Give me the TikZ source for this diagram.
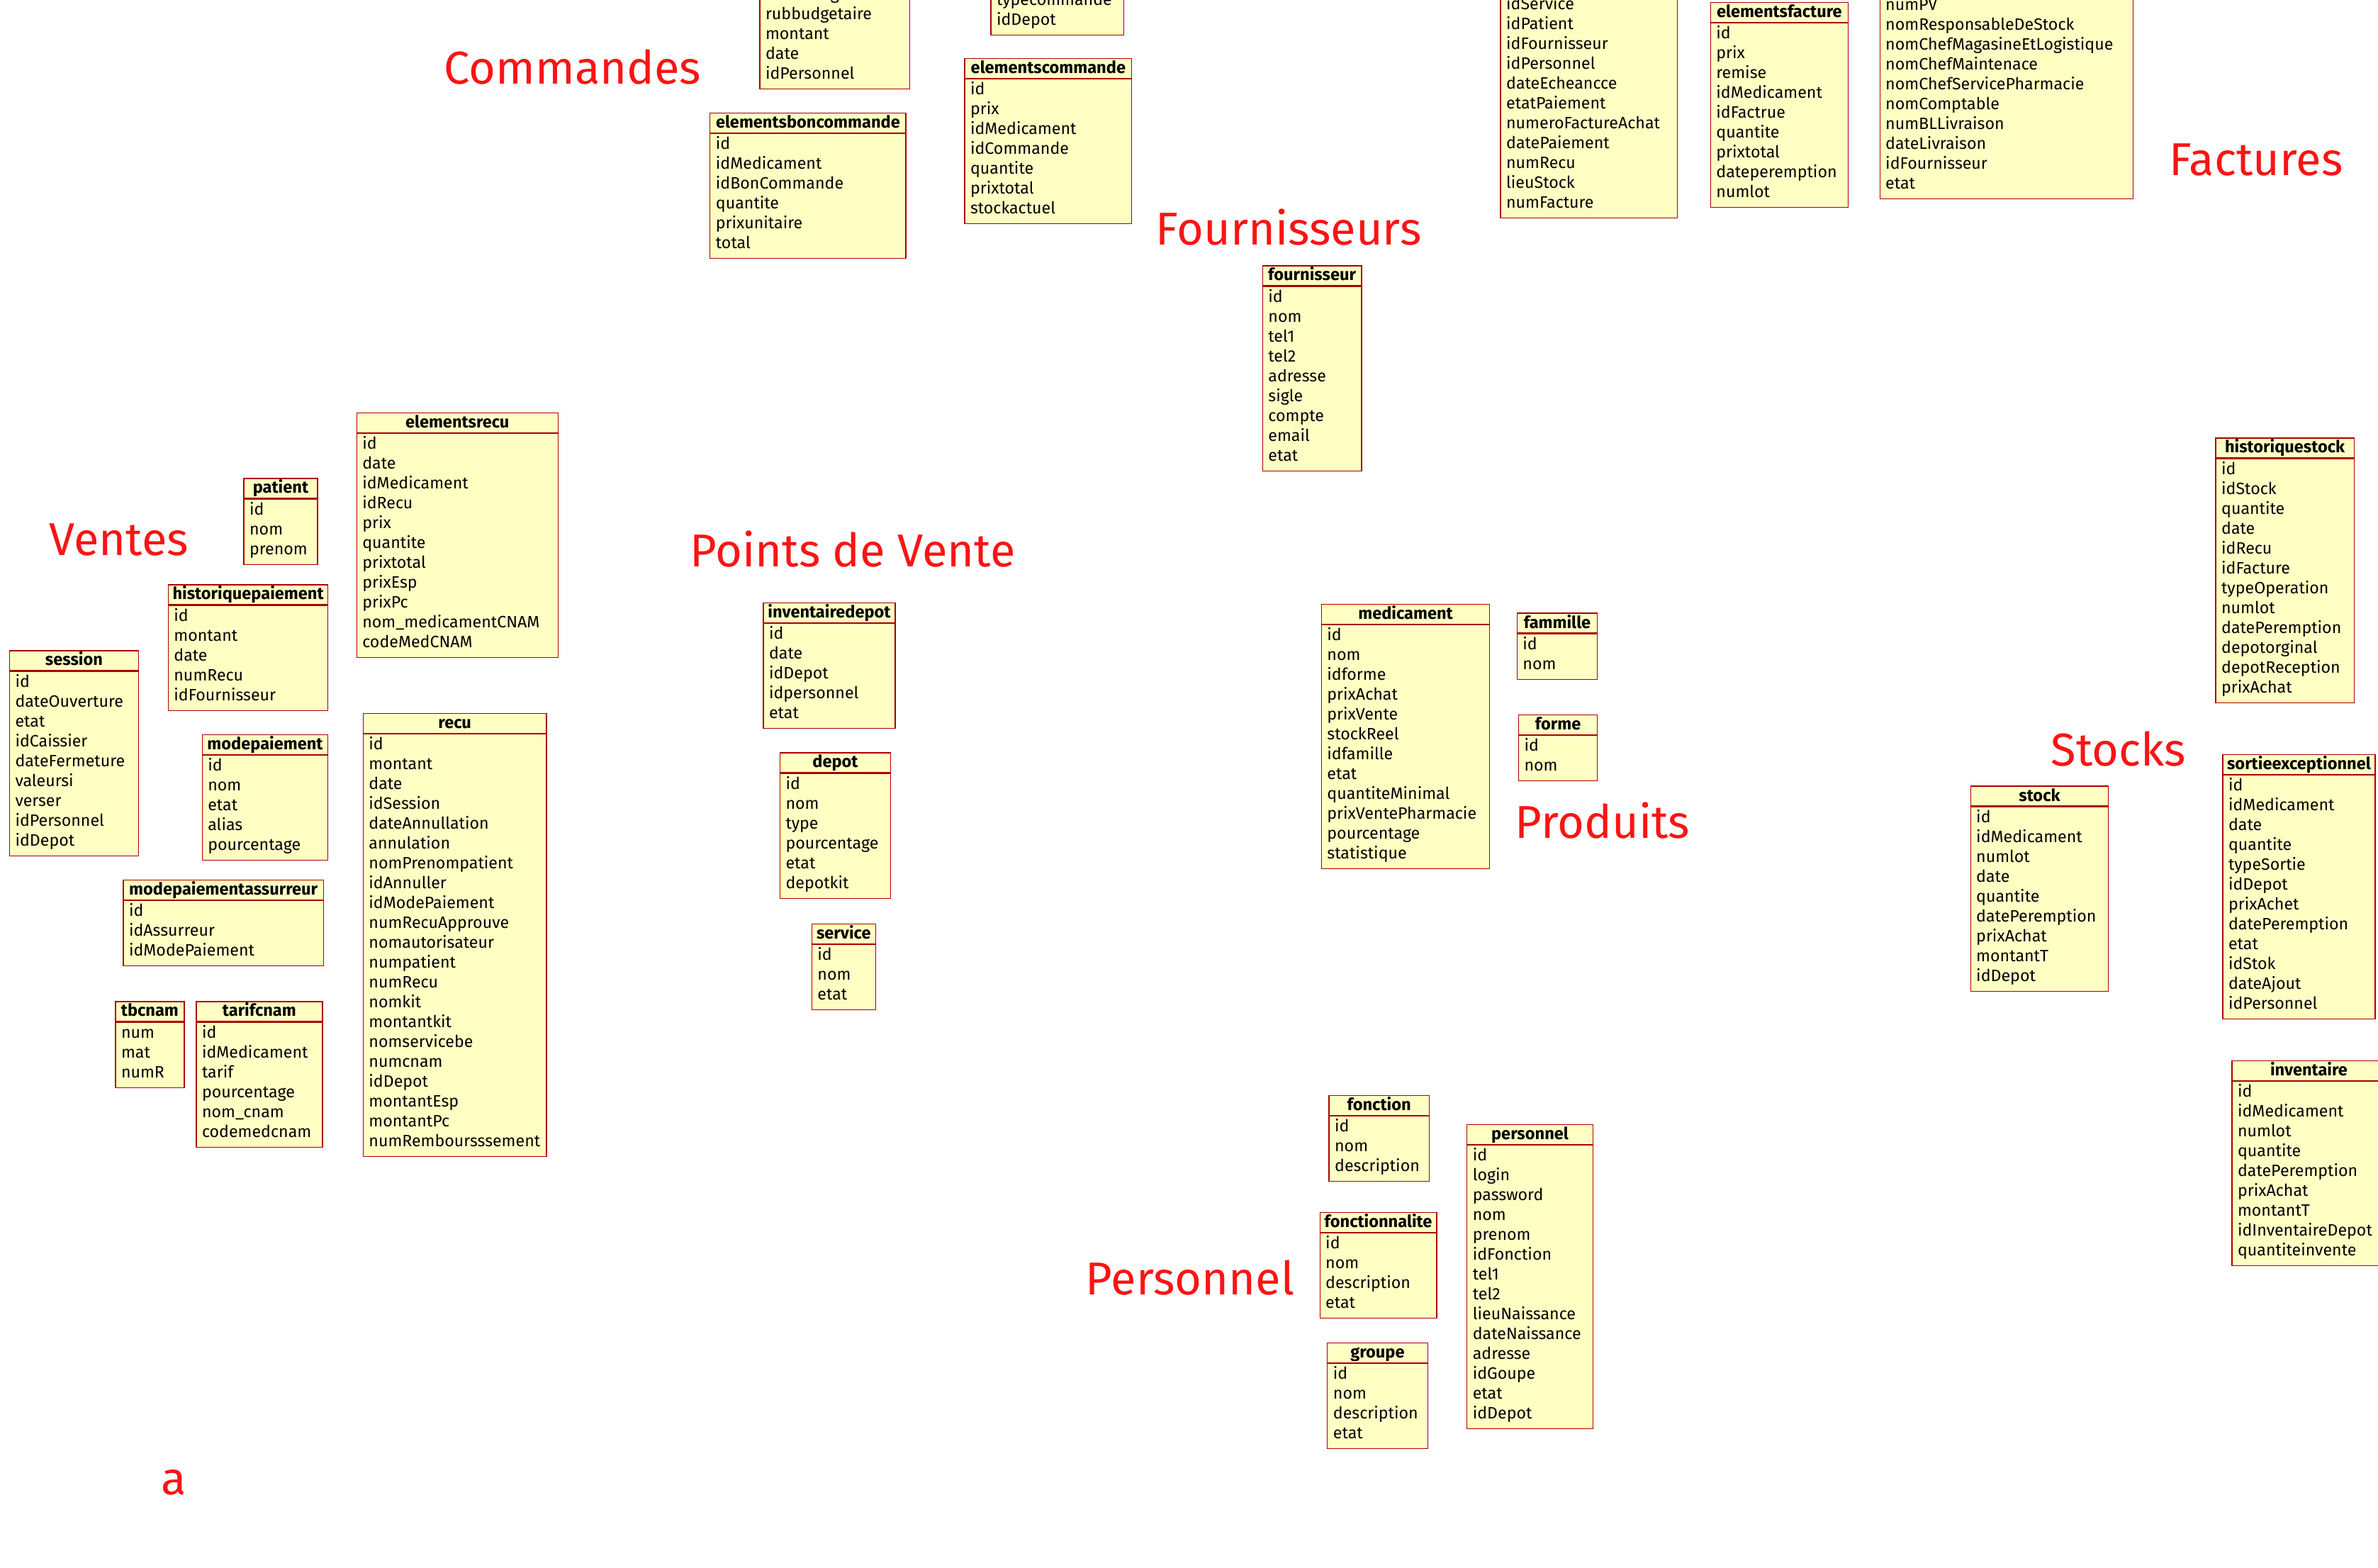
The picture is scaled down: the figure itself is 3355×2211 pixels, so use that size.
\documentclass[tikz,border=0pt]{standalone}
\usepackage{fontspec}
\setmainfont{Fira Sans}
\usetikzlibrary{calc}
\definecolor{tblfill}{RGB}{255,255,196}
\definecolor{tblborder}{RGB}{170,0,0}
\definecolor{lblred}{RGB}{250,20,20}
\newcommand\rowfont{\fontsize{11.6}{14}\selectfont}
\newcommand\hdrfont{\bfseries\fontsize{11.8}{14}\selectfont}
\newcommand\lblfont{\fontsize{32.5}{36}\selectfont}
\tikzset{
  tblhead/.style={draw=tblborder, fill=tblfill, line width=0.6pt, anchor=north west,
    minimum height=14pt, inner sep=0pt, text height=9pt, text depth=2pt, font=\hdrfont},
  tblbody/.style={draw=tblborder, fill=tblfill, line width=0.6pt, anchor=north west, inner sep=0pt},
  tblrow/.style={anchor=base west, inner sep=0pt, font=\rowfont},
  grplabel/.style={anchor=base, text=lblred, font=\lblfont, inner sep=0pt},
}
% name, x, top, width, title, n, rows
\newcommand\dbtable[7]{%
  \node[tblhead, minimum width={#4*0.5pt}] (#1) at (#2,#3) {#5};
  \node[tblbody, minimum width={#4*0.5pt}, minimum height={(28*#6+8)*0.5pt}] (#1-body) at (#1.south west) {};
  \foreach \r [count=\i] in {#7} {\node[tblrow] (#1-r\i) at ($(#1-body.north west)+(8.3,{22.7+28*(\i-1)})$) {\r};}
}
% name, x, bottom, width, n, rows
\newcommand\dbcut[6]{%
  \node[tblbody, anchor=south west, minimum width={#4*0.5pt}, minimum height={(28*#5+8)*0.5pt}] (#1-body) at (#2,#3) {};
  \foreach \r [count=\i] in {#6} {\node[tblrow] (#1-r\i) at ($(#1-body.north west)+(8.3,{22.7+28*(\i-1)})$) {\r};}
}
\begin{document}
\begin{tikzpicture}[x=0.5pt,y=-0.5pt]
\useasboundingbox (0,0) rectangle (3355,2211);
\clip (0,0) rectangle (3355,2211);
% group labels
\node[grplabel] (lcommandes) at (808,118) {Commandes};
\node[grplabel] (lfournisseurs) at (1818,345) {Fournisseurs};
\node[grplabel] (lfactures) at (3183,247) {Factures};
\node[grplabel] (lventes) at (168,783) {Ventes};
\node[grplabel] (lpoints) at (1203,799) {Points de Vente};
\node[grplabel] (lproduits) at (2261,1182) {Produits};
\node[grplabel] (lstocks) at (2989,1080) {Stocks};
\node[grplabel] (lpersonnel) at (1679,1826) {Personnel};
\node[grplabel] (la) at (245,2108) {a};
% Commandes
\dbcut{boncommande}{1071.3}{126.3}{211.4}{5}{codebudgetaire,rubbudgetaire,montant,date,idPersonnel}
\dbcut{commande}{1397.3}{50}{187.7}{2}{typecommande,idDepot}
\dbtable{elementscommande}{1360.3}{81.7}{235.9}{elementscommande}{7}{id,prix,idMedicament,idCommande,quantite,prixtotal,stockactuel}
\dbtable{elementsboncommande}{1001.2}{158.7}{276.2}{elementsboncommande}{6}{id,idMedicament,idBonCommande,quantite,prixunitaire,total}
% Fournisseurs
\dbtable{fournisseur}{1780.7}{374.3}{139.6}{fournisseur}{9}{id,nom,tel1,tel2,adresse,sigle,compte,email,etat}
% Factures
\dbcut{facture}{2116.4}{308.3}{249.1}{11}{idService,idPatient,idFournisseur,idPersonnel,dateEcheancce,etatPaiement,numeroFactureAchat,datePaiement,numRecu,lieuStock,numFacture}
\dbtable{elementsfacture}{2412.7}{2.7}{194}{elementsfacture}{9}{id,prix,remise,idMedicament,idFactrue,quantite,prixtotal,dateperemption,numlot}
\dbcut{pv}{2651.5}{281}{357.6}{10}{numPV,nomResponsableDeStock,nomChefMagasineEtLogistique,nomChefMaintenace,nomChefServicePharmacie,nomComptable,numBLLivraison,dateLivraison,idFournisseur,etat}
% Ventes
\dbtable{patient}{343.4}{674.3}{104}{patient}{3}{id,nom,prenom}
\dbtable{elementsrecu}{502.6}{581.7}{284.1}{elementsrecu}{11}{id,date,idMedicament,idRecu,prix,quantite,prixtotal,prixEsp,prixPc,nom\_medicamentCNAM,codeMedCNAM}
\dbtable{historiquepaiement}{236.7}{824.3}{225.5}{historiquepaiement}{5}{id,montant,date,numRecu,idFournisseur}
\dbtable{session}{12.8}{917.3}{182.1}{session}{9}{id,dateOuverture,etat,idCaissier,dateFermeture,valeursi,verser,idPersonnel,idDepot}
\dbtable{recu}{511.7}{1006}{258.7}{recu}{21}{id,montant,date,idSession,dateAnnullation,annulation,nomPrenompatient,idAnnuller,idModePaiement,numRecuApprouve,nomautorisateur,numpatient,numRecu,nomkit,montantkit,nomservicebe,numcnam,idDepot,montantEsp,montantPc,numRemboursssement}
\dbtable{modepaiement}{284.6}{1035.6}{177.6}{modepaiement}{5}{id,nom,etat,alias,pourcentage}
\dbtable{modepaiementassurreur}{173.3}{1241}{282.5}{modepaiementassurreur}{3}{id,idAssurreur,idModePaiement}
\dbtable{tbcnam}{162.3}{1412.3}{97}{tbcnam}{3}{num,mat,numR}
\dbtable{tarifcnam}{276.3}{1412.3}{178}{tarifcnam}{6}{id,idMedicament,tarif,pourcentage,nom\_cnam,codemedcnam}
% Points de Vente
\dbtable{inventairedepot}{1076.3}{849.5}{186.1}{inventairedepot}{5}{id,date,idDepot,idpersonnel,etat}
\dbtable{depot}{1099.8}{1061.3}{156.2}{depot}{6}{id,nom,type,pourcentage,etat,depotkit}
\dbtable{service}{1144.7}{1303}{89.9}{service}{3}{id,nom,etat}
% Produits
\dbtable{medicament}{1863.7}{851.6}{237.5}{medicament}{12}{id,nom,idforme,prixAchat,prixVente,stockReel,idfamille,etat,quantiteMinimal,prixVentePharmacie,pourcentage,statistique}
\dbtable{fammille}{2139.7}{864.4}{113.4}{fammille}{2}{id,nom}
\dbtable{forme}{2141.8}{1007.8}{111.3}{forme}{2}{id,nom}
% Stocks
\dbtable{historiquestock}{3125.4}{617.3}{195.1}{historiquestock}{12}{id,idStock,quantite,date,idRecu,idFacture,typeOperation,numlot,datePeremption,depotorginal,depotReception,prixAchat}
\dbtable{stock}{2779.5}{1108.4}{194.7}{stock}{9}{id,idMedicament,numlot,date,quantite,datePeremption,prixAchat,montantT,idDepot}
\dbtable{sortieexceptionnel}{3135.3}{1063.7}{215}{sortieexceptionnel}{12}{id,idMedicament,date,quantite,typeSortie,idDepot,prixAchet,datePeremption,etat,idStok,dateAjout,idPersonnel}
\dbtable{inventaire}{3148.3}{1496}{217}{inventaire}{9}{id,idMedicament,numlot,quantite,datePeremption,prixAchat,montantT,idInventaireDepot,quantiteinvente}
% Personnel
\dbtable{fonction}{1874.4}{1544.9}{141.2}{fonction}{3}{id,nom,description}
\dbtable{fonctionnalite}{1861.5}{1709.6}{164.8}{fonctionnalite}{4}{id,nom,description,etat}
\dbtable{groupe}{1872.2}{1893.6}{141.3}{groupe}{4}{id,nom,description,etat}
\dbtable{personnel}{2069.1}{1585.5}{177.6}{personnel}{14}{id,login,password,nom,prenom,idFonction,tel1,tel2,lieuNaissance,dateNaissance,adresse,idGoupe,etat,idDepot}
\end{tikzpicture}
\end{document}
